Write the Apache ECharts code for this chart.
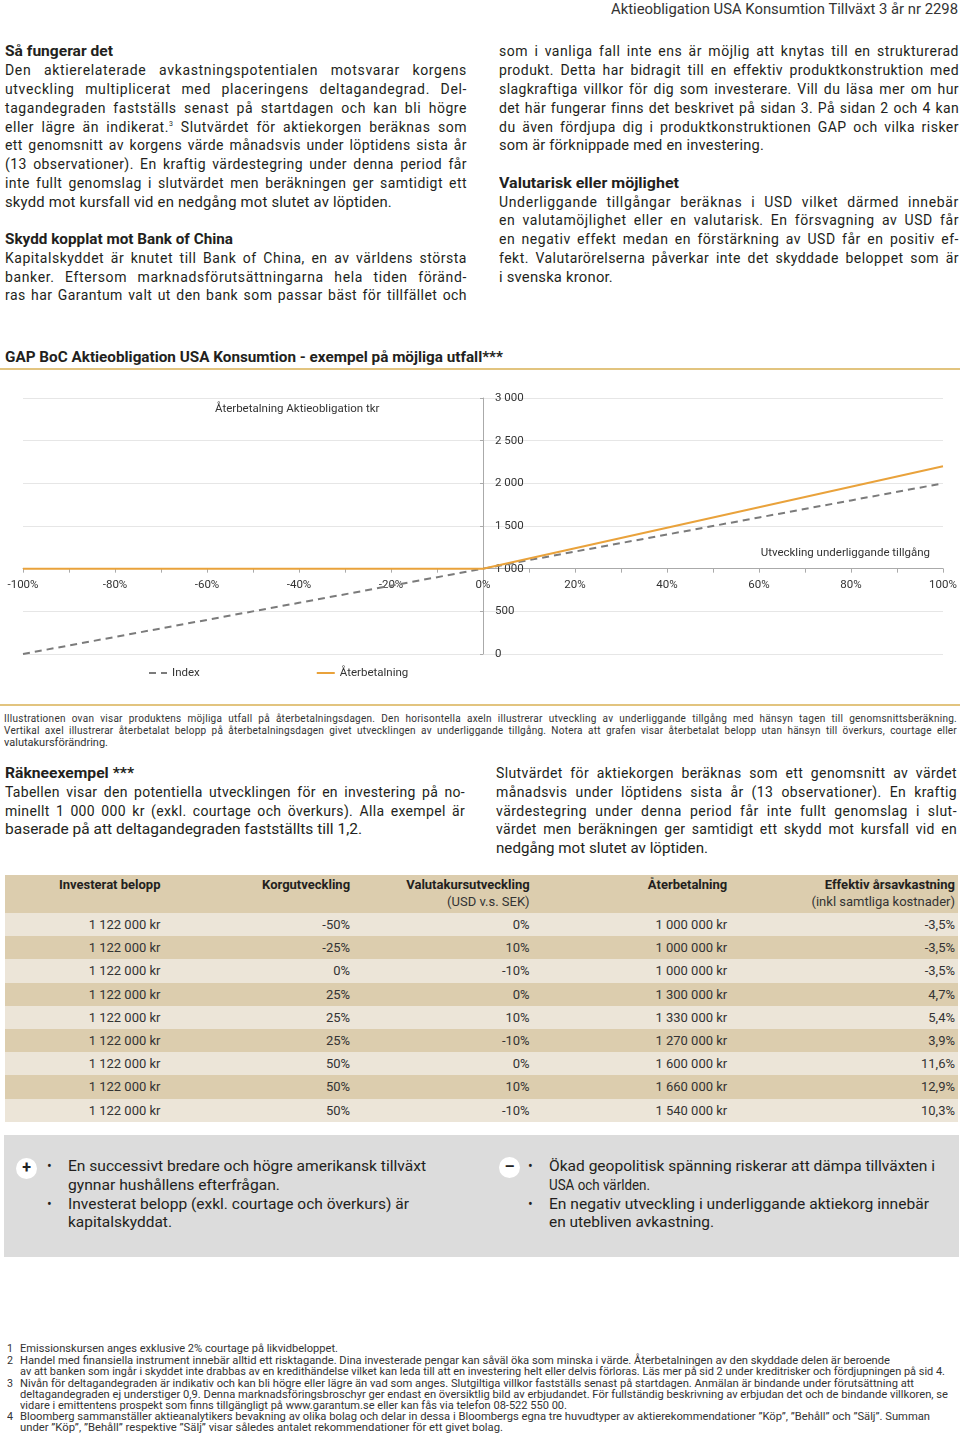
<!DOCTYPE html>
<html><head><meta charset="utf-8">
<script src="https://cdn.jsdelivr.net/npm/echarts@6/dist/echarts.min.js"></script>
<style>
html,body{margin:0;padding:0}
body{width:960px;height:1438px;position:relative;background:#fff;font-family:Roboto,"Noto Sans",sans-serif;color:#231f20;overflow:hidden}
.ln{position:absolute;white-space:nowrap;transform-origin:0 0}
.body{font-size:14px;line-height:18px;letter-spacing:0.2px}
.bold{font-size:14px;line-height:18px;font-weight:bold}
.cond{font-size:14px;line-height:18px}
.hdr{font-size:14px;line-height:18px;color:#333}
.cap{font-size:10px;line-height:12px;color:#333}
.fn{font-size:10.5px;line-height:12px;color:#333}
sup{font-size:7px;line-height:0;vertical-align:6px}
#chart{position:absolute;left:0;top:380px;width:960px;height:320px}
.gold{position:absolute;left:0;width:960px;height:2px;background:#e2c47f}
table{position:absolute;left:5px;top:875px;width:953px;border-collapse:collapse;table-layout:fixed;font-size:13px;color:#333}
td{padding:0;text-align:right;height:23.2px;line-height:17px;white-space:nowrap}
tr.h td{height:37px;vertical-align:top;padding-top:1px;font-weight:bold;color:#231f20}
tr.h td span{font-weight:normal;color:#333}
tr.a td{background:#ece5d8}
tr.b td{background:#dccdae}
tr.h td{background:#dccdae}
td.last{padding-right:3px}
#box{position:absolute;left:4px;top:1135px;width:955px;height:122px;background:#dcdcdc}
.circ{position:absolute;width:21px;height:21px;border-radius:50%;background:#fff;text-align:center;font-weight:bold;font-size:16px;line-height:20px;color:#222}
.bul{position:absolute;font-size:14px;line-height:18px}
</style></head>
<body>
<div class="gold" style="top:368px"></div>
<div id="chart"></div>
<div class="gold" style="top:704px"></div>
<table id="tbl"></table>
<div id="box"></div>
<div class="circ" style="left:16px;top:1158px">+</div>
<div class="circ" style="left:499px;top:1157px">–</div>
<div class="bul" style="left:47px;top:1157px">•</div>
<div class="bul" style="left:47px;top:1195px">•</div>
<div class="bul" style="left:528px;top:1157px">•</div>
<div class="bul" style="left:528px;top:1195px">•</div>
<script>
// ---------- chart data ----------
const xValues = [-100, -80, -60, -40, -20, 0, 20, 40, 60, 80, 100];
const indexValues = [0, 200, 400, 600, 800, 1000, 1200, 1400, 1600, 1800, 2000];
const repaymentValues = [1000, 1000, 1000, 1000, 1000, 1000, 1240, 1480, 1720, 1960, 2200];
const seriesNames = ['Index', 'Återbetalning'];
const yTitle = 'Återbetalning Aktieobligation tkr';
const xTitle = 'Utveckling underliggande tillgång';
const yMin = 0, yMax = 3000, yStep = 500, xCrossAt = 1000;
const xMin = -100, xMax = 100, xStep = 20;

// ---------- table data ----------
const tableHeader = ['Investerat belopp', 'Korgutveckling', 'Valutakursutveckling', 'Återbetalning', 'Effektiv årsavkastning'];
const tableSub = ['', '', '(USD v.s. SEK)', '', '(inkl samtliga kostnader)'];
const invested = ['1 122 000 kr','1 122 000 kr','1 122 000 kr','1 122 000 kr','1 122 000 kr','1 122 000 kr','1 122 000 kr','1 122 000 kr','1 122 000 kr'];
const basket = ['-50%','-25%','0%','25%','25%','25%','50%','50%','50%'];
const currency = ['0%','10%','-10%','0%','10%','-10%','0%','10%','-10%'];
const repayment = ['1 000 000 kr','1 000 000 kr','1 000 000 kr','1 300 000 kr','1 330 000 kr','1 270 000 kr','1 600 000 kr','1 660 000 kr','1 540 000 kr'];
const annual = ['-3,5%','-3,5%','-3,5%','4,7%','5,4%','3,9%','11,6%','12,9%','10,3%'];

// ---------- table ----------
(function(){
  const widths=[155,189,179,197,230];
  let h='<colgroup>'+widths.map(w=>'<col style="width:'+w+'px">').join('')+'</colgroup>';
  h+='<tr class="h">'+tableHeader.map((t,i)=>'<td'+(i===4?' class="last"':'')+'>'+t+(tableSub[i]?'<br><span>'+tableSub[i]+'</span>':'')+'</td>').join('')+'</tr>';
  for(let r=0;r<invested.length;r++){
    const c=[invested[r],basket[r],currency[r],repayment[r],annual[r]];
    h+='<tr class="'+(r%2===0?'a':'b')+'">'+c.map((t,i)=>'<td'+(i===4?' class="last"':'')+'>'+t+'</td>').join('')+'</tr>';
  }
  document.getElementById('tbl').innerHTML=h;
})();

// ---------- text lines: [centerY, x, width, mode, class, html] ----------
const lines = [
 [9,611,347,'f','hdr','Aktieobligation USA Konsumtion Tillväxt 3 år nr 2298'],
 [51,5,108,'f','bold','Så fungerar det'],
 [70,5,462,'j','body','Den aktierelaterade avkastningspotentialen motsvarar korgens'],
 [89,5,462,'j','body','utveckling multiplicerat med placeringens deltagandegrad. Del-'],
 [108,5,462,'j','body','tagandegraden fastställs senast på startdagen och kan bli högre'],
 [127,5,462,'j','body','eller lägre än indikerat.<sup>3</sup> Slutvärdet för aktiekorgen beräknas som'],
 [145,5,462,'j','body','ett genomsnitt av korgens värde månadsvis under löptidens sista år'],
 [164,5,462,'j','body','(13 observationer). En kraftig värdestegring under denna period får'],
 [183,5,462,'j','body','inte fullt genomslag i slutvärdet men beräkningen ger samtidigt ett'],
 [202,5,387,'f','body','skydd mot kursfall vid en nedgång mot slutet av löptiden.'],
 [239,5,228,'f','bold','Skydd kopplat mot Bank of China'],
 [258,5,462,'j','body','Kapitalskyddet är knutet till Bank of China, en av världens största'],
 [277,5,462,'j','body','banker. Eftersom marknadsförutsättningarna hela tiden föränd-'],
 [295,5,462,'j','body','ras har Garantum valt ut den bank som passar bäst för tillfället och'],
 [51,499,460,'j','body','som i vanliga fall inte ens är möjlig att knytas till en strukturerad'],
 [70,499,460,'j','body','produkt. Detta har bidragit till en effektiv produktkonstruktion med'],
 [89,499,460,'j','body','slagkraftiga villkor för dig som investerare. Vill du läsa mer om hur'],
 [108,499,460,'j','body','det här fungerar finns det beskrivet på sidan 3. På sidan 2 och 4 kan'],
 [127,499,460,'j','body','du även fördjupa dig i produktkonstruktionen GAP och vilka risker'],
 [145,499,265,'f','body','som är förknippade med en investering.'],
 [183,499,180,'f','bold','Valutarisk eller möjlighet'],
 [202,499,460,'j','body','Underliggande tillgångar beräknas i USD vilket därmed innebär'],
 [220,499,460,'j','body','en valutamöjlighet eller en valutarisk. En försvagning av USD får'],
 [239,499,460,'j','body','en negativ effekt medan en förstärkning av USD får en positiv ef-'],
 [258,499,460,'j','body','fekt. Valutarörelserna påverkar inte det skyddade beloppet som är'],
 [277,499,114,'f','body','i svenska kronor.'],
 [357,5,498,'f','bold','GAP BoC Aktieobligation USA Konsumtion - exempel på möjliga utfall***'],
 [719,4,953,'j','cap','Illustrationen ovan visar produktens möjliga utfall på återbetalningsdagen. Den horisontella axeln illustrerar utveckling av underliggande tillgång med hänsyn tagen till genomsnittsberäkning.'],
 [731,4,953,'j','cap','Vertikal axel illustrerar återbetalat belopp på återbetalningsdagen givet utvecklingen av underliggande tillgång. Notera att grafen visar återbetalat belopp utan hänsyn till överkurs, courtage eller'],
 [743,4,104,'f','cap','valutakursförändring.'],
 [773,5,129,'f','bold','Räkneexempel ***'],
 [792,5,460,'j','cond','Tabellen visar den potentiella utvecklingen för en investering på no-'],
 [811,5,460,'j','cond','minellt 1 000 000 kr (exkl. courtage och överkurs). Alla exempel är'],
 [829,5,357,'f','cond','baserade på att deltagandegraden fastställts till 1,2.'],
 [773,496,461,'j','cond','Slutvärdet för aktiekorgen beräknas som ett genomsnitt av värdet'],
 [792,496,461,'j','cond','månadsvis under löptidens sista år (13 observationer). En kraftig'],
 [811,496,461,'j','cond','värdestegring under denna period får inte fullt genomslag i slut-'],
 [829,496,461,'j','cond','värdet men beräkningen ger samtidigt ett skydd mot kursfall vid en'],
 [848,496,212,'f','cond','nedgång mot slutet av löptiden.'],
 [1166,68,358,'f','cond','En successivt bredare och högre amerikansk tillväxt'],
 [1185,68,212,'f','cond','gynnar hushållens efterfrågan.'],
 [1204,68,341,'f','cond','Investerat belopp (exkl. courtage och överkurs) är'],
 [1222,68,104,'f','cond','kapitalskyddat.'],
 [1166,549,386,'f','cond','Ökad geopolitisk spänning riskerar att dämpa tillväxten i'],
 [1185,549,101,'f','cond','USA och världen.'],
 [1204,549,380,'f','cond','En negativ utveckling i underliggande aktiekorg innebär'],
 [1222,549,165,'f','cond','en utebliven avkastning.'],
 [1349,7,6,'f','fn','1'],
 [1361,7,6,'f','fn','2'],
 [1384,7,6,'f','fn','3'],
 [1417,7,6,'f','fn','4'],
 [1349,20,318,'f','fn','Emissionskursen anges exklusive 2% courtage på likvidbeloppet.'],
 [1361,20,870,'f','fn','Handel med finansiella instrument innebär alltid ett risktagande. Dina investerade pengar kan såväl öka som minska i värde. Återbetalningen av den skyddade delen är beroende'],
 [1372,20,925,'f','fn','av att banken som ingår i skyddet inte drabbas av en kredithändelse vilket kan leda till att en investering helt eller delvis förloras. Läs mer på sid 2 under kreditrisker och fördjupningen på sid 4.'],
 [1384,20,894,'f','fn','Nivån för deltagandegraden är indikativ och kan bli högre eller lägre än vad som anges. Slutgiltiga villkor fastställs senast på startdagen. Anmälan är bindande under förutsättning att'],
 [1395,20,928,'f','fn','deltagandegraden ej understiger 0,9. Denna marknadsföringsbroschyr ger endast en översiktlig bild av erbjudandet. För fullständig beskrivning av erbjudan det och de bindande villkoren, se'],
 [1406,20,547,'f','fn','vidare i emittentens prospekt som finns tillgängligt på www.garantum.se eller kan fås via telefon 08-522 550 00.'],
 [1417,20,910,'f','fn','Bloomberg sammanställer aktieanalytikers bevakning av olika bolag och delar in dessa i Bloombergs egna tre huvudtyper av aktierekommendationer ”Köp”, ”Behåll” och ”Sälj”. Summan'],
 [1428,20,483,'f','fn','under ”Köp”, ”Behåll” respektive ”Sälj” visar således antalet rekommendationer för ett givet bolag.']
];
lines.forEach(function(L){
  const d=document.createElement('div');
  d.className='ln '+L[4];
  d.innerHTML=L[5];
  document.body.appendChild(d);
  const lh=parseFloat(getComputedStyle(d).lineHeight);
  d.style.left=L[1]+'px';
  d.style.top=(L[0]-lh/2)+'px';
  let nat=d.getBoundingClientRect().width;
  const w=L[2];
  if(L[3]==='j' && nat<w){
    const txt=d.textContent;
    const chars=txt.length;
    const spaces=(txt.match(/ /g)||[]).length;
    let extra=w-nat;
    const baseLS=parseFloat(getComputedStyle(d).letterSpacing)||0;
    const addLS=Math.min(extra*0.45/chars,0.5);
    d.style.letterSpacing=(baseLS+addLS)+'px';
    nat=d.getBoundingClientRect().width;
    extra=w-nat;
    if(spaces>0 && extra>0) d.style.wordSpacing=(extra/spaces)+'px';
  } else if(nat>0){
    d.style.transform='scaleX('+(w/nat)+')';
  }
});

// ---------- chart ----------
const gridTop=18, gridBottom=46, chartH=320;
const plotH=chartH-gridTop-gridBottom;
const xAxisOffset=-plotH*(xCrossAt-yMin)/(yMax-yMin);
const gridLeft=23, gridRight=17, chartW=960;
const plotW=chartW-gridLeft-gridRight;
const yAxisOffset=-plotW*(0-xMin)/(xMax-xMin);

const chart = echarts.init(document.getElementById('chart'), null, {renderer:'canvas'});
const fmtThousands = v => String(v).replace(/\B(?=(\d{3})+(?!\d))/g, ' ');
chart.setOption({
  animation:false,
  textStyle:{fontFamily:'Roboto, "Noto Sans", sans-serif'},
  grid:{left:gridLeft,right:gridRight,top:gridTop,bottom:gridBottom},
  legend:{
    left:143, top:282, itemWidth:18, itemHeight:10, itemGap:116,
    itemStyle:{opacity:0},
    textStyle:{fontSize:11.5,color:'#333'},
    data:seriesNames
  },
  graphic:[
    {type:'text',left:215,top:23,style:{text:yTitle,fontSize:11.5,fill:'#333',fontFamily:'Roboto'}},
    {type:'text',right:30,top:167,style:{text:xTitle,fontSize:11.5,fill:'#333',fontFamily:'Roboto'}}
  ],
  xAxis:{
    type:'value', min:xMin, max:xMax, interval:xStep, position:'bottom', offset:xAxisOffset,
    axisLine:{show:true,onZero:false,lineStyle:{color:'#aaa',width:1}},
    axisTick:{show:true,length:4,lineStyle:{color:'#aaa'}},
    minorTick:{show:true,splitNumber:2,length:4,lineStyle:{color:'#aaa'}},
    splitLine:{show:false},
    axisLabel:{margin:10,fontSize:11.5,color:'#333',formatter:v=>Math.round(v)+'%'}
  },
  yAxis:{
    type:'value', min:yMin, max:yMax, interval:yStep, position:'left', offset:yAxisOffset,
    axisLine:{show:true,onZero:false,lineStyle:{color:'#aaa'}},
    axisTick:{show:true,length:3,inside:false,lineStyle:{color:'#aaa'}},
    splitLine:{show:true,lineStyle:{color:'#e6e6e6',width:1}},
    axisLabel:{inside:true,margin:12,fontSize:11.5,color:'#333',formatter:fmtThousands}
  },
  series:[
    {name:seriesNames[0],type:'line',symbol:'none',z:2,
     data:xValues.map((x,i)=>[x,indexValues[i]]),
     itemStyle:{color:'#7b7b7b'},
     lineStyle:{color:'#7b7b7b',width:2,type:[7,5]}},
    {name:seriesNames[1],type:'line',symbol:'none',z:3,
     data:xValues.map((x,i)=>[x,repaymentValues[i]]),
     itemStyle:{color:'#e9a23b'},
     lineStyle:{color:'#e9a23b',width:2}}
  ]
});
</script>
</body></html>
